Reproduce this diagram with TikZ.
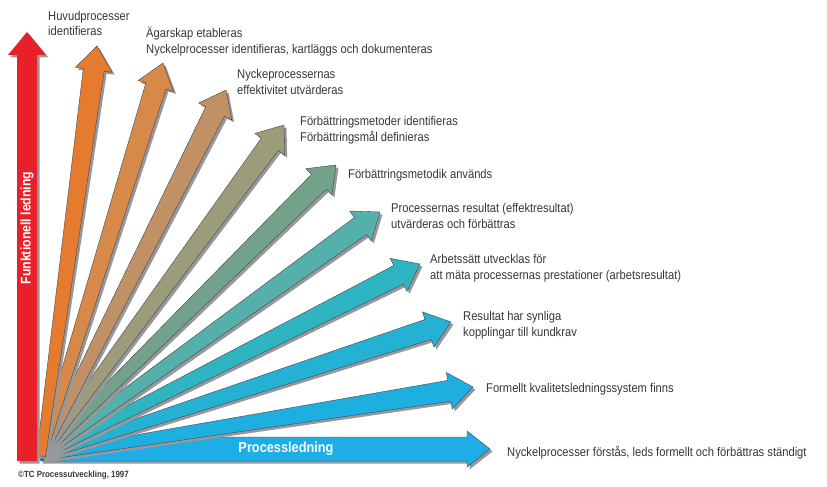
\documentclass[tikz,border=0pt]{standalone}
\usepackage{fontspec}
\setmainfont{Liberation Sans}[FakeStretch=0.88]
\usepackage{xcolor}
\definecolor{funcred}{RGB}{232,32,42}
\definecolor{fanone}{RGB}{228,123,47}
\definecolor{fantwo}{RGB}{215,137,74}
\definecolor{fanthree}{RGB}{192,145,100}
\definecolor{fanfour}{RGB}{156,156,122}
\definecolor{fanfive}{RGB}{114,162,138}
\definecolor{fansix}{RGB}{85,175,170}
\definecolor{fanseven}{RGB}{47,180,194}
\definecolor{faneight}{RGB}{37,177,212}
\definecolor{fannine}{RGB}{29,175,224}
\definecolor{procblue}{RGB}{29,174,230}
\definecolor{shadowgray}{RGB}{150,152,158}
\definecolor{edgegray}{RGB}{70,70,70}
\definecolor{textgray}{RGB}{55,55,60}
\usetikzlibrary{calc}
\tikzset{
  fanlabel/.style={anchor=base west, inner sep=0pt, align=left,
    text=textgray, font=\fontsize{12.7}{15.8}\selectfont},
  barlabel/.style={inner sep=0pt, text=white,
    font=\fontsize{14}{16}\selectfont\bfseries},
  arrowshadow/.style={fill=shadowgray, transform canvas={shift={(2.5pt,-2.5pt)}}},
  arrowbody/.style={draw=edgegray, line width=0.4pt},
}
% tapered arrow from (origin) to the named tip
\newcommand{\fanarrow}[2]{%
  \coordinate (hb) at ($(#2)!24pt!(origin)$);
  \coordinate (a1) at ($(origin)!4.5pt!90:(#2)$);
  \coordinate (b1) at ($(origin)!4.5pt!-90:(#2)$);
  \coordinate (a2) at ($(hb)!10.5pt!90:(#2)$);
  \coordinate (b2) at ($(hb)!10.5pt!-90:(#2)$);
  \coordinate (a3) at ($(hb)!18.5pt!90:(#2)$);
  \coordinate (b3) at ($(hb)!18.5pt!-90:(#2)$);
  \fill[arrowshadow] (a1) -- (a2) -- (a3) -- (#2) -- (b3) -- (b2) -- (b1) -- cycle;
  \filldraw[arrowbody, fill=#1] (a1) -- (a2) -- (a3) -- (#2) -- (b3) -- (b2) -- (b1) -- cycle;
}
\begin{document}
\begin{tikzpicture}[x=1pt, y=-1pt]
  \fill[white] (0,0) rectangle (827,487);
  \useasboundingbox (0,0) rectangle (827,487);

  % Fan origin and arrow tips
  \coordinate (origin) at (41,456);
  \coordinate (tipone) at (97,46);
  \coordinate (tiptwo) at (163,63);
  \coordinate (tipthree) at (226,90);
  \coordinate (tipfour) at (284,125);
  \coordinate (tipfive) at (336,165);
  \coordinate (tipsix) at (380,212);
  \coordinate (tipseven) at (420,264);
  \coordinate (tipeight) at (451,322);
  \coordinate (tipnine) at (473,387);
  \coordinate (tipten) at (490,449);

  % Horizontal arrow
  \fill[arrowshadow] (40,450) -- (110,437) -- (467,437) -- (467,431) -- (tipten)
    -- (467,467) -- (467,461) -- (40,461) -- cycle;
  \filldraw[arrowbody, fill=procblue] (40,450) -- (110,437) -- (467,437) -- (467,431)
    -- (tipten) -- (467,467) -- (467,461) -- (40,461) -- cycle;

  % Fan arrows, bottom first
  \foreach \c/\t in {fannine/tipnine, faneight/tipeight,
      fanseven/tipseven, fansix/tipsix, fanfive/tipfive, fanfour/tipfour,
      fanthree/tipthree, fantwo/tiptwo, fanone/tipone} {
    \fanarrow{\c}{\t}
  }

  % Vertical arrow
  \coordinate (redtip) at (27,32);
  \fill[arrowshadow] (17,461) -- (17,55) -- (8,55) -- (redtip) -- (46,55)
    -- (37,55) -- (37,461) -- cycle;
  \fill[funcred] (17,461) -- (17,55) -- (8,55) -- (redtip) -- (46,55)
    -- (37,55) -- (37,461) -- cycle;
  \node[barlabel, rotate=90] (funk) at (27,228) {Funktionell ledning};
  \node[barlabel, font=\fontsize{14.5}{16}\selectfont\bfseries] (proc) at (286,449) {Processledning};

  % Labels (base = last line)
  \node[fanlabel] (labone) at (48,36) {Huvudprocesser\\identifieras};
  \node[fanlabel] (labtwo) at (146,53)
    {Ägarskap etableras\\Nyckelprocesser identifieras, kartläggs och dokumenteras};
  \node[fanlabel] (labthree) at (237,94) {Nyckeprocessernas\\effektivitet utvärderas};
  \node[fanlabel] (labfour) at (300,141)
    {Förbättringsmetoder identifieras\\Förbättringsmål definieras};
  \node[fanlabel] (labfive) at (348,178) {Förbättringsmetodik används};
  \node[fanlabel] (labsix) at (391,228)
    {Processernas resultat (effektresultat)\\utvärderas och förbättras};
  \node[fanlabel] (labseven) at (430,279)
    {Arbetssätt utvecklas för\\att mäta processernas prestationer (arbetsresultat)};
  \node[fanlabel] (labeight) at (463,336) {Resultat har synliga\\kopplingar till kundkrav};
  \node[fanlabel] (labnine) at (486,392) {Formellt kvalitetsledningssystem finns};
  \node[fanlabel] (labten) at (507,456)
    {Nyckelprocesser förstås, leds formellt och förbättras ständigt};

  \node[fanlabel, font=\fontsize{9}{10}\selectfont\bfseries] (copy) at (18,477)
    {©TC Processutveckling, 1997};
\end{tikzpicture}
\end{document}
